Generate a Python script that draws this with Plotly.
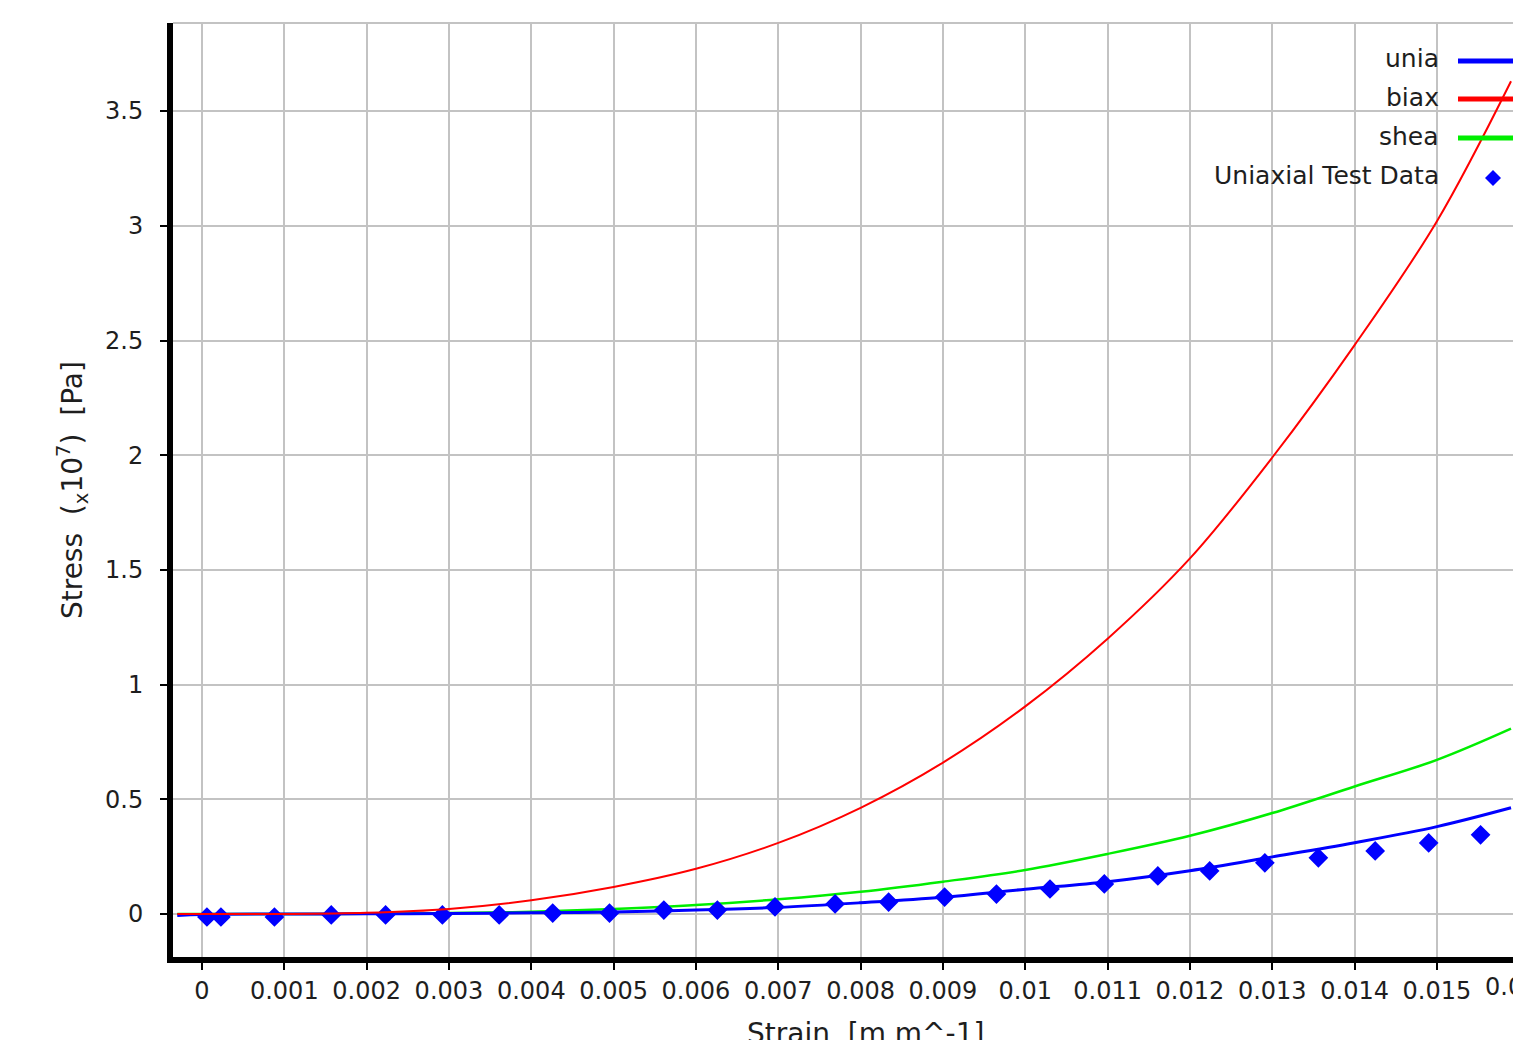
import plotly.graph_objects as go

# ---- data (stress in units of 1e7 Pa) ----
fit_strain = [-0.0003, 0.0, 0.001, 0.002, 0.003, 0.004, 0.005, 0.006, 0.007,
              0.008, 0.009, 0.010, 0.011, 0.012, 0.013, 0.014, 0.015, 0.0159]
uniaxial_fit = [-0.006, -0.002, 0.0, 0.001, 0.002, 0.005, 0.009, 0.017, 0.029,
                0.049, 0.073, 0.108, 0.141, 0.189, 0.249, 0.311, 0.381, 0.463]
biaxial_fit = [0.0, 0.0, 0.0, 0.005, 0.022, 0.06, 0.118, 0.197, 0.31,
               0.463, 0.66, 0.905, 1.20, 1.55, 1.99, 2.48, 3.02, 3.63]
shear_fit = [0.0, 0.0, 0.0, 0.001, 0.004, 0.010, 0.022, 0.039, 0.064,
             0.097, 0.141, 0.192, 0.262, 0.341, 0.44, 0.556, 0.672, 0.808]

test_strain = [0.00006, 0.00023, 0.00088, 0.00157, 0.00223, 0.00292, 0.00361,
               0.00426, 0.00495, 0.00561, 0.00626, 0.00696, 0.00769, 0.00834,
               0.00902, 0.00965, 0.01030, 0.01096, 0.01161, 0.01224, 0.01291,
               0.01356, 0.01425, 0.01490, 0.01553]
test_stress = [-0.013, -0.013, -0.013, -0.004, -0.004, -0.004, -0.004,
               0.004, 0.004, 0.017, 0.017, 0.031, 0.044, 0.052,
               0.074, 0.087, 0.109, 0.131, 0.166, 0.188, 0.223,
               0.245, 0.275, 0.310, 0.345]

x_tickvals = [0, 0.001, 0.002, 0.003, 0.004, 0.005, 0.006, 0.007, 0.008,
              0.009, 0.01, 0.011, 0.012, 0.013, 0.014, 0.015]
x_ticktext = ["0", "0.001", "0.002", "0.003", "0.004", "0.005", "0.006",
              "0.007", "0.008", "0.009", "0.01", "0.011", "0.012", "0.013",
              "0.014", "0.015"]
x_tick_cut = "0.016"   # partly visible label at the cropped right edge
y_tickvals = [0, 0.5, 1, 1.5, 2, 2.5, 3, 3.5]
y_ticktext = ["0", "0.5", "1", "1.5", "2", "2.5", "3", "3.5"]

legend_names = ["unia", "biax", "shea", "Uniaxial Test Data"]

FONT = "DejaVu Sans"
TXT = "#1e1e1e"
GRID = "#c3c3c3"

fig = go.Figure()
fig.add_trace(go.Scatter(x=fit_strain, y=shear_fit, mode="lines",
                         line=dict(color="#00ee00", width=2.5, shape="spline"),
                         name=legend_names[2]))
fig.add_trace(go.Scatter(x=fit_strain, y=uniaxial_fit, mode="lines",
                         line=dict(color="#0000ff", width=3, shape="spline"),
                         name=legend_names[0]))
fig.add_trace(go.Scatter(x=test_strain, y=test_stress, mode="markers",
                         marker=dict(symbol="diamond", size=13, color="#0000ff",
                                     line=dict(width=2, color="#0000ff")),
                         name=legend_names[3]))
fig.add_trace(go.Scatter(x=fit_strain, y=biaxial_fit, mode="lines",
                         line=dict(color="#ff0000", width=2, shape="spline"),
                         name=legend_names[1]))

# pixel layout of the plot area
L, R, T, B = 173, 1513, 23, 957
W, H = R - L, B - T


def px(xp):
    return (xp - L) / W


def py(yp):
    return (B - yp) / H


shapes = [dict(type="line", xref="paper", yref="paper", x0=0, x1=1, y0=1, y1=1,
               line=dict(color=GRID, width=2))]
annotations = []

legend_rows = [(59, "#0000ff"), (97, "#ff0000"), (136, "#00ee00")]
for (yp, col), name in zip(legend_rows, legend_names[:3]):
    annotations.append(dict(text=name, xref="paper", yref="paper", x=px(1441), y=py(yp),
                            xanchor="right", yanchor="middle", showarrow=False,
                            font=dict(family=FONT, size=25, color=TXT)))
    shapes.append(dict(type="line", xref="paper", yref="paper",
                       x0=px(1458), x1=px(1530), y0=py(yp + 2), y1=py(yp + 2),
                       line=dict(color=col, width=5)))
annotations.append(dict(text=legend_names[3], xref="paper", yref="paper", x=px(1441), y=py(175),
                        xanchor="right", yanchor="middle", showarrow=False,
                        font=dict(family=FONT, size=25, color=TXT)))
shapes.append(dict(type="path", xref="paper", yref="paper", xsizemode="pixel", ysizemode="pixel",
                   xanchor=px(1493), yanchor=py(178),
                   path="M -8 0 L 0 8 L 8 0 L 0 -8 Z", fillcolor="#0000ff",
                   line=dict(width=0)))

# partially visible tick label at the cropped right edge
annotations.append(dict(text=x_tick_cut, xref="paper", yref="paper", x=px(1519), y=py(987),
                        xanchor="center", yanchor="middle", showarrow=False,
                        font=dict(family=FONT, size=24, color=TXT)))

# axis titles
annotations.append(dict(text="Strain  [m m^-1]", xref="paper", yref="paper",
                        x=px(865), y=py(1033), xanchor="center", yanchor="middle",
                        showarrow=False, font=dict(family=FONT, size=28, color=TXT)))
annotations.append(dict(text="Stress  (<sub>x</sub>10<sup>7</sup>)  [Pa]", xref="paper", yref="paper",
                        x=px(72), y=py(490), xanchor="center", yanchor="middle",
                        textangle=-90, showarrow=False,
                        font=dict(family=FONT, size=28, color=TXT)))

fig.update_layout(
    width=1513, height=1040,
    margin=dict(l=L, r=0, t=T, b=1040 - B, pad=0),
    paper_bgcolor="white", plot_bgcolor="white",
    showlegend=False,
    font=dict(family=FONT, size=24, color=TXT),
    shapes=shapes, annotations=annotations,
    xaxis=dict(range=[-0.000352, 0.015924], tickvals=x_tickvals, ticktext=x_ticktext,
               showgrid=True, gridcolor=GRID, gridwidth=2, zeroline=False,
               showline=True, linecolor="black", linewidth=6,
               ticks="outside", ticklen=7, tickwidth=2, tickcolor="black",
               tickfont=dict(family=FONT, size=24, color=TXT)),
    yaxis=dict(range=[-0.1874, 3.884], tickvals=y_tickvals, ticktext=y_ticktext,
               showgrid=True, gridcolor=GRID, gridwidth=2, zeroline=False,
               showline=True, linecolor="black", linewidth=6,
               ticks="outside", ticklen=7, tickwidth=2, tickcolor="black",
               ticklabelstandoff=12,
               tickfont=dict(family=FONT, size=24, color=TXT)),
)

fig.write_html("out.html", config={"displayModeBar": False},
               post_script="document.body.style.margin='0';document.body.style.overflow='hidden';")
